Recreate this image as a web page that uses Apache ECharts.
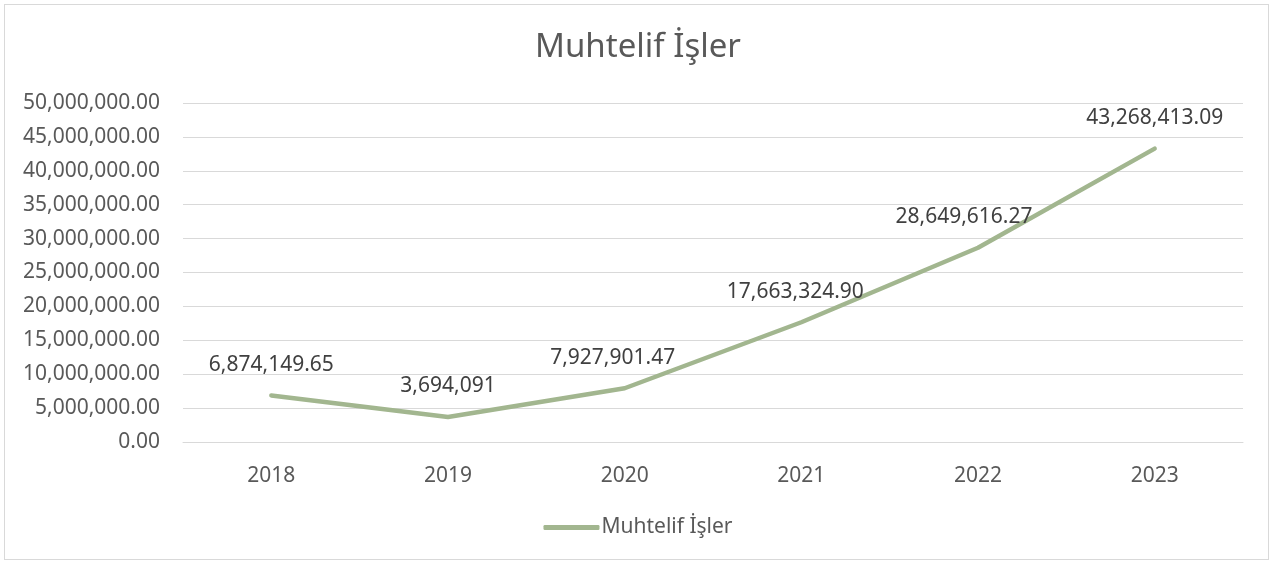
<!DOCTYPE html>
<html>
<head>
<meta charset="utf-8">
<script src="https://cdn.jsdelivr.net/npm/echarts@6/dist/echarts.min.js"></script>
<style>
  html, body { margin: 0; padding: 0; background: #fff; }
  #frame {
    position: absolute; left: 4px; top: 4px; width: 1265px; height: 556px;
    border: 1px solid #d9d9d9; box-sizing: border-box;
  }
  #chart { width: 1276px; height: 563px; }
</style>
</head>
<body>
<div id="frame"></div>
<div id="chart"></div>
<script>
var title = 'Muhtelif İşler'
var years = ['2018', '2019', '2020', '2021', '2022', '2023']
var values = [6874149.65, 3694091, 7927901.47, 17663324.90, 28649616.27, 43268413.09]
// small nudges so labels sit where the original has them
var labelShift = [[0, 0], [0, 0], [-12, 0], [-6, 0], [-14, 0], [0, 0]]

function fmt (v, dec) {
  return v.toLocaleString('en-US', { minimumFractionDigits: dec, maximumFractionDigits: dec })
}

var myChart = echarts.init(document.getElementById('chart'))
var textColor = '#595959'
var font = 'Noto Sans'

var option = {
  animation: false,
  title: {
    text: title,
    left: 'center',
    top: 26,
    textStyle: { fontFamily: font, fontSize: 33, fontWeight: 'normal', color: textColor }
  },
  grid: { left: 183, right: 33, top: 103, bottom: 121, containLabel: false },
  legend: {
    bottom: 20,
    left: 'center',
    itemWidth: 56,
    itemHeight: 5,
    itemGap: 0,
    icon: 'roundRect',
    textStyle: { fontFamily: font, fontSize: 21, color: textColor, padding: [0, 0, 0, -3] },
    data: [title]
  },
  xAxis: {
    type: 'category',
    data: years,
    boundaryGap: true,
    axisLine: { lineStyle: { color: '#d9d9d9', width: 1 } },
    axisTick: { show: false },
    axisLabel: { fontFamily: font, fontSize: 21, color: textColor, margin: 24 }
  },
  yAxis: {
    type: 'value',
    min: 0,
    max: 50000000,
    interval: 5000000,
    axisLine: { show: false },
    axisTick: { show: false },
    splitLine: { lineStyle: { color: '#d9d9d9', width: 1 } },
    axisLabel: {
      fontFamily: font, fontSize: 21, color: textColor, margin: 23,
      formatter: function (v) { return fmt(v, 2) }
    }
  },
  series: [
    {
      name: title,
      type: 'line',
      data: values.map(function (v, i) {
        return { value: v, label: { offset: labelShift[i] } }
      }),
      symbol: 'circle',
      symbolSize: 0,
      showSymbol: true,
      lineStyle: { color: '#a2b68f', width: 4.5, cap: 'round', join: 'round' },
      itemStyle: { color: '#a2b68f' },
      label: {
        show: true,
        position: 'top',
        distance: 20,
        fontFamily: font,
        fontSize: 21,
        color: '#404040',
        formatter: function (p) {
          var v = p.value
          return Number.isInteger(v) ? fmt(v, 0) : fmt(v, 2)
        }
      }
    }
  ]
}
myChart.setOption(option)
</script>
</body>
</html>
